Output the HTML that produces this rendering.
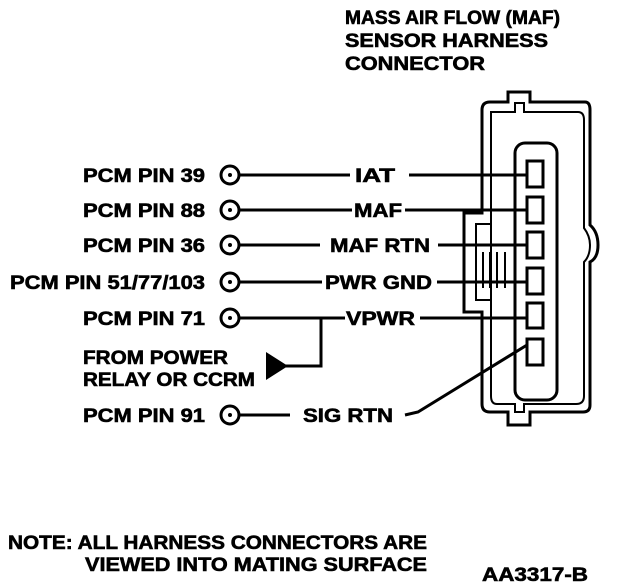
<!DOCTYPE html>
<html><head><style>html,body{margin:0;padding:0;background:#fff}svg{display:block}text{font-family:"Liberation Sans",sans-serif;font-weight:bold;font-size:19px;fill:#000;stroke:#000;stroke-width:0.6}</style></head>
<body>
<svg width="624" height="584" viewBox="0 0 624 584">
<text x="345" y="24" textLength="215" lengthAdjust="spacingAndGlyphs">MASS AIR FLOW (MAF)</text>
<text x="345" y="47" textLength="203" lengthAdjust="spacingAndGlyphs">SENSOR HARNESS</text>
<text x="345" y="70" textLength="140" lengthAdjust="spacingAndGlyphs">CONNECTOR</text>

<g fill="none" stroke="#000" stroke-width="3">
<path d="M508,92 H530 V102 H585 Q590,102 590,110 V225 Q598,232 598,245 Q598,258 590,262 V405 Q590,412 583,412 H530 V425 H508 V412 H490 Q482,412 482,404 V312 H464 V213 H482 V110 Q482,102 490,102 H508 Z"/>
<path d="M515,103 H524 V112 H578 Q584,112 584,120 V228 Q590,236 590,245 Q590,256 584,262 V396 Q584,404 576,404 H524 V412 H515 V404 H497 Q491,404 491,396 V112 H515 Z" stroke-width="2"/>
<path d="M491,224 H476 V300 H491" stroke-width="2"/>
<rect x="515" y="143" width="42" height="257" rx="10"/>
<rect x="527" y="161" width="16" height="26"/>
<rect x="527" y="197" width="16" height="26"/>
<rect x="527" y="232" width="16" height="26"/>
<rect x="527" y="268" width="16" height="26"/>
<rect x="527" y="303" width="16" height="25"/>
<rect x="527" y="339" width="16" height="26"/>
<g stroke-width="2"><path d="M483,252 V288 M490,252 V288 M497,252 V288 M505,252 V288"/></g>
<circle cx="230" cy="175" r="9"/><circle cx="230" cy="210" r="9"/><circle cx="230" cy="245" r="9"/><circle cx="230" cy="282" r="9"/><circle cx="230" cy="318" r="9"/><circle cx="230" cy="415" r="9"/>
<path d="M239,175 H350 M409,175 H527 M239,210 H352 M405,210 H527 M239,245 H320 M438,245 H527 M239,282 H322 M437,282 H527 M239,318 H345 M420,318 H527 M239,415 H290 M405,415 L418,412 L527,345"/>
<path d="M321,318 V366 H285"/>
</g>
<g fill="#000"><circle cx="230" cy="175" r="2"/><circle cx="230" cy="210" r="2"/><circle cx="230" cy="245" r="2"/><circle cx="230" cy="282" r="2"/><circle cx="230" cy="318" r="2"/><circle cx="230" cy="415" r="2"/>
<polygon points="266,352 288,366 266,380"/></g>

<text x="83" y="182" textLength="122" lengthAdjust="spacingAndGlyphs">PCM PIN 39</text>
<text x="83" y="217" textLength="122" lengthAdjust="spacingAndGlyphs">PCM PIN 88</text>
<text x="83" y="252" textLength="122" lengthAdjust="spacingAndGlyphs">PCM PIN 36</text>
<text x="10" y="289" textLength="195" lengthAdjust="spacingAndGlyphs">PCM PIN 51/77/103</text>
<text x="83" y="325" textLength="122" lengthAdjust="spacingAndGlyphs">PCM PIN 71</text>
<text x="83" y="422" textLength="122" lengthAdjust="spacingAndGlyphs">PCM PIN 91</text>
<text x="355" y="182" textLength="40" lengthAdjust="spacingAndGlyphs">IAT</text>
<text x="354" y="217" textLength="48" lengthAdjust="spacingAndGlyphs">MAF</text>
<text x="330" y="252" textLength="100" lengthAdjust="spacingAndGlyphs">MAF RTN</text>
<text x="325" y="289" textLength="107" lengthAdjust="spacingAndGlyphs">PWR GND</text>
<text x="346" y="325" textLength="69" lengthAdjust="spacingAndGlyphs">VPWR</text>
<text x="303" y="422" textLength="90" lengthAdjust="spacingAndGlyphs">SIG RTN</text>
<text x="83" y="364" textLength="145" lengthAdjust="spacingAndGlyphs">FROM POWER</text>
<text x="83" y="386" textLength="172" lengthAdjust="spacingAndGlyphs">RELAY OR CCRM</text>
<text x="8" y="549" textLength="419" lengthAdjust="spacingAndGlyphs">NOTE: ALL HARNESS CONNECTORS ARE</text>
<text x="85" y="571" textLength="342" lengthAdjust="spacingAndGlyphs">VIEWED INTO MATING SURFACE</text>
<text x="482" y="581" textLength="106" lengthAdjust="spacingAndGlyphs">AA3317-B</text>
</svg>
</body></html>
